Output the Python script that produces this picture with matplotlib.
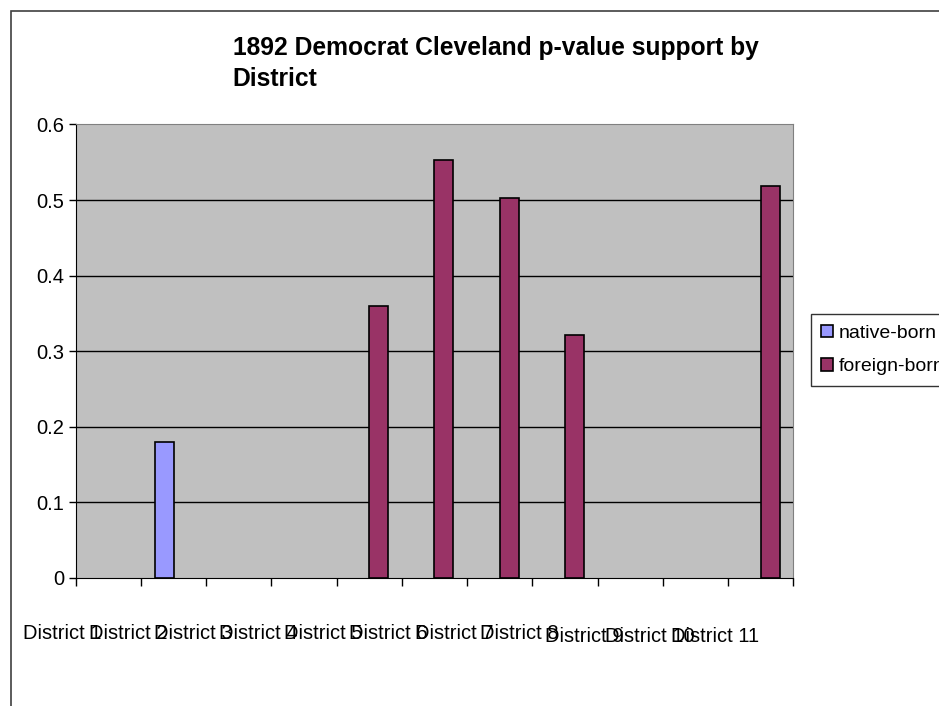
import numpy as np
import matplotlib
matplotlib.use('Agg')
import matplotlib.pyplot as plt
from matplotlib.patches import Rectangle
from matplotlib.transforms import blended_transform_factory

plt.rcParams['font.family'] = ['Liberation Sans', 'DejaVu Sans']

# datos
districts = ['District 1', 'District 2', 'District 3', 'District 4', 'District 5',
             'District 6', 'District 7', 'District 8', 'District 9', 'District 10',
             'District 11']
native_born = [None, 0.18, None, None, None, None, None, None, None, None, None]
foreign_born = [None, None, None, None, 0.36, 0.553, 0.503, 0.321, None, None, 0.518]
y_ticks = [0, 0.1, 0.2, 0.3, 0.4, 0.5, 0.6]
y_labels = ['0', '0.1', '0.2', '0.3', '0.4', '0.5', '0.6']

c_native = '#9999FF'
c_foreign = '#993366'
w = 0.29

fig = plt.figure(figsize=(9.39, 7.06), dpi=100)
ax = fig.add_axes([0.0806, 0.1817, 0.7642, 0.642])
ax.set_facecolor('#C0C0C0')

# borde de la figura
fig.patches.append(Rectangle((11 / 939, -0.1), 1.2, (706 - 11) / 706 + 0.1,
                             transform=fig.transFigure, fill=False,
                             edgecolor='#404040', lw=1.2, zorder=0))

centers = np.arange(len(districts)) + 0.5
xn = [c - w for c, v in zip(centers, native_born) if v is not None]
yn = [v for v in native_born if v is not None]
xf = [c for c, v in zip(centers, foreign_born) if v is not None]
yf = [v for v in foreign_born if v is not None]

ax.bar(xn, yn, width=w, align='edge', color=c_native, edgecolor='black',
       lw=1.2, zorder=3, label='native-born')
ax.bar(xf, yf, width=w, align='edge', color=c_foreign, edgecolor='black',
       lw=1.2, zorder=3, label='foreign-born')

ax.set_xlim(0, len(districts))
ax.set_ylim(0, 0.6)
ax.set_yticks(y_ticks)
ax.set_yticklabels(y_labels, fontsize=14.5)
ax.set_xticks(np.arange(len(districts) + 1))
ax.set_xticklabels([])
ax.tick_params(axis='y', length=5, width=1, direction='out', pad=3)
ax.tick_params(axis='x', length=6, width=1, direction='out')

for yv in y_ticks[1:-1]:
    ax.axhline(yv, color='black', lw=1, zorder=1)

ax.spines['top'].set_color('#808080')
ax.spines['right'].set_color('#808080')
ax.spines['left'].set_color('black')
ax.spines['bottom'].set_color('black')

# etiquetas del eje x (desplazadas como en el original)
trans = blended_transform_factory(ax.transData, ax.transAxes)
for i, name in enumerate(districts):
    yoff = -0.1225 if i < 8 else -0.130
    ax.text(centers[i] - 0.7, yoff, name, transform=trans, ha='center',
            va='center', fontsize=14.5)

fig.text(0.248, 0.949, '1892 Democrat Cleveland p-value support by\nDistrict',
         fontsize=17.7, fontweight='bold', ha='left', va='top', linespacing=1.38)

leg = fig.legend(loc='upper left', bbox_to_anchor=(0.8634, 0.555), fontsize=14,
                 frameon=True, fancybox=False, shadow=False,
                 handlelength=0.6, handleheight=0.6, handletextpad=0.3,
                 labelspacing=0.85, borderpad=0.55, borderaxespad=0)
leg.get_frame().set_edgecolor('black')
leg.get_frame().set_linewidth(1)

plt.savefig('out.png', dpi=100)
